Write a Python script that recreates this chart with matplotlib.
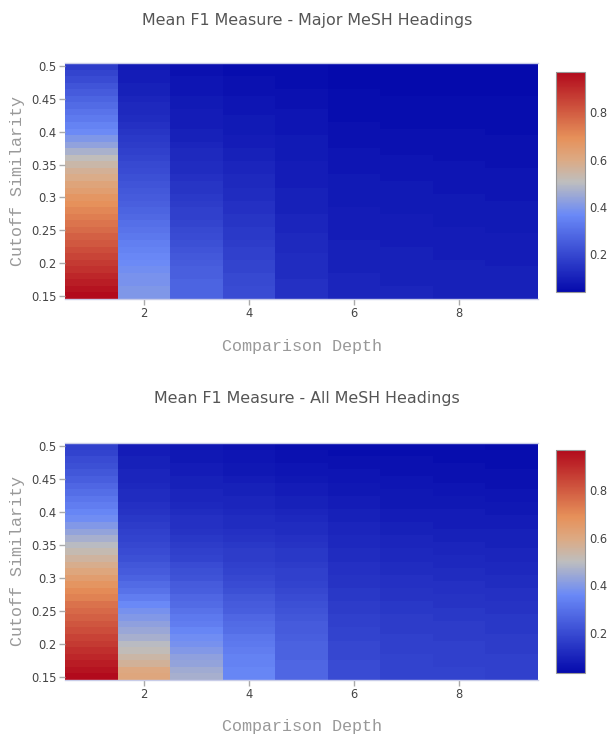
import numpy as np
import matplotlib
matplotlib.use('Agg')
import matplotlib.pyplot as plt
from matplotlib.colors import LinearSegmentedColormap

# --- Data (rows: cutoff 0.15 -> 0.50, one list per comparison depth) ---
cutoffs = [round(0.15 + 0.01 * i, 2) for i in range(36)]
depths = [1, 2, 3, 4, 5, 6, 7, 8, 9]

major_d1 = [0.97, 0.95, 0.93, 0.91, 0.89, 0.87, 0.85, 0.83, 0.81, 0.79, 0.77, 0.75, 0.73, 0.71, 0.69, 0.67, 0.64, 0.62,
            0.59, 0.57, 0.54, 0.51, 0.47, 0.43, 0.40, 0.37, 0.35, 0.33, 0.31, 0.29, 0.27, 0.25, 0.23, 0.21, 0.19, 0.17]
major_d2 = [0.40, 0.40, 0.39, 0.39, 0.38, 0.37, 0.36, 0.35, 0.34, 0.32, 0.31, 0.30, 0.28, 0.27, 0.26, 0.25, 0.24, 0.23,
            0.22, 0.21, 0.20, 0.19, 0.18, 0.17, 0.16, 0.15, 0.14, 0.13, 0.12, 0.12, 0.11, 0.10, 0.10, 0.09, 0.09, 0.08]
major_d3 = [0.27, 0.27, 0.27, 0.26, 0.26, 0.25, 0.24, 0.23, 0.22, 0.21, 0.20, 0.19, 0.18, 0.18, 0.17, 0.16, 0.15, 0.15,
            0.14, 0.13, 0.13, 0.12, 0.12, 0.11, 0.10, 0.10, 0.09, 0.09, 0.09, 0.08, 0.08, 0.07, 0.07, 0.07, 0.06, 0.06]
major_d4 = [0.21, 0.21, 0.20, 0.20, 0.19, 0.19, 0.18, 0.18, 0.17, 0.16, 0.16, 0.15, 0.15, 0.14, 0.14, 0.13, 0.13, 0.12,
            0.12, 0.11, 0.11, 0.10, 0.10, 0.09, 0.09, 0.08, 0.08, 0.08, 0.07, 0.07, 0.07, 0.06, 0.06, 0.06, 0.05, 0.05]
major_d5 = [0.14, 0.14, 0.14, 0.13, 0.13, 0.13, 0.13, 0.12, 0.12, 0.12, 0.11, 0.11, 0.11, 0.10, 0.10, 0.10, 0.10, 0.09,
            0.09, 0.09, 0.09, 0.08, 0.08, 0.08, 0.08, 0.07, 0.07, 0.07, 0.07, 0.06, 0.06, 0.06, 0.05, 0.05, 0.05, 0.05]
major_d6 = [0.11, 0.11, 0.11, 0.11, 0.10, 0.10, 0.10, 0.10, 0.10, 0.09, 0.09, 0.09, 0.09, 0.09, 0.08, 0.08, 0.08, 0.08,
            0.08, 0.07, 0.07, 0.07, 0.07, 0.06, 0.06, 0.06, 0.06, 0.05, 0.05, 0.05, 0.05, 0.05, 0.04, 0.04, 0.04, 0.04]
major_d7 = [0.11, 0.11, 0.10, 0.10, 0.10, 0.10, 0.10, 0.10, 0.09, 0.09, 0.09, 0.09, 0.09, 0.08, 0.08, 0.08, 0.08, 0.08,
            0.07, 0.07, 0.07, 0.07, 0.06, 0.06, 0.06, 0.06, 0.05, 0.05, 0.05, 0.05, 0.05, 0.04, 0.04, 0.04, 0.04, 0.04]
major_d8 = [0.10, 0.10, 0.10, 0.10, 0.10, 0.10, 0.09, 0.09, 0.09, 0.09, 0.09, 0.08, 0.08, 0.08, 0.08, 0.08, 0.07, 0.07,
            0.07, 0.07, 0.07, 0.06, 0.06, 0.06, 0.06, 0.06, 0.05, 0.05, 0.05, 0.05, 0.05, 0.04, 0.04, 0.04, 0.04, 0.04]
major_d9 = [0.10, 0.10, 0.10, 0.10, 0.10, 0.09, 0.09, 0.09, 0.09, 0.09, 0.08, 0.08, 0.08, 0.08, 0.08, 0.07, 0.07, 0.07,
            0.07, 0.07, 0.06, 0.06, 0.06, 0.06, 0.06, 0.05, 0.05, 0.05, 0.05, 0.05, 0.05, 0.04, 0.04, 0.04, 0.04, 0.04]

all_d1 = [0.97, 0.95, 0.93, 0.91, 0.89, 0.87, 0.85, 0.83, 0.81, 0.79, 0.77, 0.75, 0.72, 0.70, 0.67, 0.64, 0.61, 0.58,
          0.55, 0.52, 0.49, 0.46, 0.43, 0.40, 0.37, 0.35, 0.33, 0.31, 0.29, 0.27, 0.25, 0.23, 0.21, 0.20, 0.18, 0.17]
all_d2 = [0.61, 0.60, 0.56, 0.54, 0.51, 0.49, 0.46, 0.44, 0.42, 0.40, 0.38, 0.36, 0.33, 0.30, 0.28, 0.26, 0.24, 0.23,
          0.21, 0.20, 0.19, 0.18, 0.17, 0.16, 0.15, 0.14, 0.13, 0.12, 0.12, 0.11, 0.10, 0.10, 0.09, 0.09, 0.08, 0.08]
all_d3 = [0.46, 0.45, 0.43, 0.42, 0.40, 0.38, 0.37, 0.35, 0.33, 0.32, 0.30, 0.28, 0.27, 0.25, 0.24, 0.22, 0.21, 0.20,
          0.18, 0.17, 0.16, 0.15, 0.14, 0.13, 0.13, 0.12, 0.11, 0.10, 0.10, 0.09, 0.09, 0.08, 0.08, 0.07, 0.07, 0.06]
all_d4 = [0.35, 0.35, 0.34, 0.34, 0.33, 0.32, 0.31, 0.29, 0.28, 0.27, 0.25, 0.24, 0.23, 0.21, 0.20, 0.19, 0.18, 0.17,
          0.16, 0.16, 0.15, 0.14, 0.13, 0.12, 0.12, 0.11, 0.10, 0.10, 0.09, 0.09, 0.08, 0.07, 0.07, 0.06, 0.06, 0.05]
all_d5 = [0.27, 0.27, 0.27, 0.26, 0.26, 0.26, 0.25, 0.24, 0.24, 0.23, 0.22, 0.21, 0.20, 0.19, 0.18, 0.17, 0.17, 0.16,
          0.15, 0.15, 0.14, 0.13, 0.12, 0.12, 0.11, 0.10, 0.09, 0.09, 0.08, 0.08, 0.07, 0.06, 0.06, 0.05, 0.05, 0.04]
all_d6 = [0.20, 0.20, 0.20, 0.19, 0.19, 0.19, 0.18, 0.18, 0.17, 0.17, 0.16, 0.16, 0.15, 0.15, 0.14, 0.14, 0.13, 0.13,
          0.12, 0.12, 0.11, 0.11, 0.10, 0.10, 0.09, 0.09, 0.08, 0.08, 0.07, 0.07, 0.06, 0.06, 0.05, 0.05, 0.04, 0.04]
all_d7 = [0.18, 0.18, 0.18, 0.18, 0.17, 0.17, 0.17, 0.16, 0.16, 0.16, 0.15, 0.15, 0.14, 0.14, 0.13, 0.13, 0.12, 0.12,
          0.11, 0.11, 0.10, 0.10, 0.09, 0.09, 0.08, 0.08, 0.07, 0.07, 0.07, 0.06, 0.06, 0.05, 0.05, 0.05, 0.04, 0.04]
all_d8 = [0.18, 0.18, 0.17, 0.17, 0.17, 0.17, 0.16, 0.16, 0.16, 0.15, 0.15, 0.14, 0.14, 0.13, 0.13, 0.12, 0.12, 0.11,
          0.11, 0.10, 0.10, 0.09, 0.09, 0.08, 0.08, 0.08, 0.07, 0.07, 0.06, 0.06, 0.05, 0.05, 0.05, 0.04, 0.04, 0.04]
all_d9 = [0.17, 0.17, 0.17, 0.17, 0.16, 0.16, 0.16, 0.15, 0.15, 0.15, 0.14, 0.14, 0.13, 0.13, 0.12, 0.12, 0.11, 0.11,
          0.10, 0.10, 0.09, 0.09, 0.09, 0.08, 0.08, 0.07, 0.07, 0.06, 0.06, 0.05, 0.05, 0.05, 0.04, 0.04, 0.04, 0.03]

major = np.array([major_d1, major_d2, major_d3, major_d4, major_d5, major_d6, major_d7, major_d8, major_d9]).T
allmesh = np.array([all_d1, all_d2, all_d3, all_d4, all_d5, all_d6, all_d7, all_d8, all_d9]).T

# plotly-style RdBu scale
stops = [(0.0, (5, 10, 172)), (0.35, (106, 137, 247)), (0.5, (190, 190, 190)),
         (0.6, (220, 170, 132)), (0.7, (230, 145, 90)), (1.0, (178, 10, 28))]
cmap = LinearSegmentedColormap.from_list('plotly_rdbu', [(p, tuple(c / 255 for c in rgb)) for p, rgb in stops])

W, H = 608, 735
fig = plt.figure(figsize=(W / 100, H / 100), dpi=100)


def px_axes(x0, y0, x1, y1):
    return fig.add_axes([x0 / W, 1 - y1 / H, (x1 - x0) / W, (y1 - y0) / H])


TICK_C = '#444444'
AXT_C = '#999999'


def draw_panel(data, title, box, cbox, title_y, xlab_y):
    ax = px_axes(*box)
    mesh = ax.pcolormesh(depths, cutoffs, data, cmap=cmap, shading='nearest',
                         vmin=data.min(), vmax=data.max())
    ax.set_xlim(0.5, 9.5)
    ax.set_ylim(0.145, 0.505)
    ax.set_xticks([2, 4, 6, 8])
    yt = [0.15, 0.2, 0.25, 0.3, 0.35, 0.4, 0.45, 0.5]
    ax.set_yticks(yt)
    ax.set_yticklabels([('%g' % v) for v in yt])
    ax.tick_params(length=4, width=1, color='#aaaaaa', labelcolor=TICK_C, labelsize=8.3, pad=2)
    for s in ['left', 'right']:
        ax.spines[s].set_visible(False)
    for s in ['top', 'bottom']:
        ax.spines[s].set_color('#c8cce8')
        ax.spines[s].set_linewidth(1)

    cx = (box[0] + box[2]) / 2 / W
    fig.text(0.505, 1 - title_y / H, title, ha='center', va='center', fontsize=11.4,
             color='#555555', family='DejaVu Sans')
    fig.text(cx, 1 - xlab_y / H, 'Comparison Depth', ha='center', va='center', fontsize=12.1,
             color=AXT_C, family='Liberation Mono')
    fig.text(18 / W, 1 - (box[1] + box[3]) / 2 / H, 'Cutoff Similarity', ha='center', va='center',
             rotation=90, fontsize=12.1, color=AXT_C, family='Liberation Mono')

    cax = px_axes(*cbox)
    cb = fig.colorbar(mesh, cax=cax, ticks=[0.2, 0.4, 0.6, 0.8])
    cb.ax.set_yticklabels(['0.2', '0.4', '0.6', '0.8'])
    cb.ax.tick_params(length=0, labelsize=8.3, labelcolor=TICK_C, pad=3)
    cb.outline.set_edgecolor('#999999')
    cb.outline.set_linewidth(0.8)
    return ax


draw_panel(major, 'Mean F1 Measure - Major MeSH Headings', (65, 63, 538, 299), (556, 72, 585, 292), 20, 347)
draw_panel(allmesh, 'Mean F1 Measure - All MeSH Headings', (65, 443, 538, 680), (556, 450, 585, 673), 398, 727)

fig.savefig('out.png', dpi=100)
